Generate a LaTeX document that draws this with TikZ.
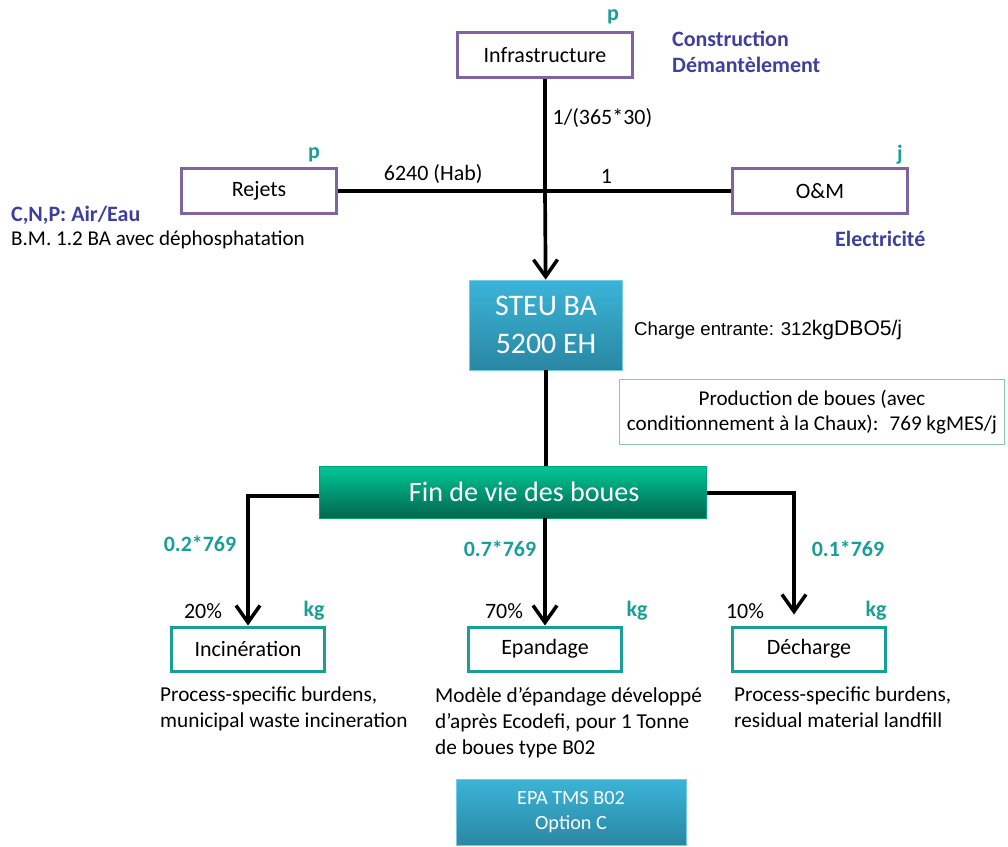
\documentclass[tikz,border=0pt]{standalone}
\usepackage{fontspec}
\setmainfont{Carlito}
\newfontfamily\arialfont{Liberation Sans}
\usetikzlibrary{arrows.meta}
\definecolor{mauve}{HTML}{8064A2}
\definecolor{sarcelle}{HTML}{1A9E98}
\definecolor{indigo}{HTML}{3F3F9E}
\definecolor{ciel}{HTML}{3BB4D8}
\definecolor{cielfonce}{HTML}{2A87A3}
\definecolor{menthe}{HTML}{00C896}
\definecolor{menthefonce}{HTML}{00664F}
\definecolor{vertpale}{HTML}{8CC9AC}
\begin{document}
\begin{tikzpicture}[x=0.02cm,y=-0.02cm,
  every node/.style={font=\fontsize{12.5}{15}\selectfont},
  inbox/.style={draw=mauve,line width=1.7pt,minimum width=3.5cm,minimum height=0.9cm},
  outbox/.style={draw=sarcelle,line width=1.7pt,minimum width=3.05cm,minimum height=0.88cm},
  bluebox/.style={top color=ciel,bottom color=cielfonce,draw=ciel!70!white,text=white,align=center},
  unit/.style={text=sarcelle,font=\fontsize{12.5}{15}\selectfont\bfseries},
  note/.style={text=indigo,font=\fontsize{12.5}{15}\selectfont\bfseries,align=left},
  desc/.style={align=left,anchor=north west,font=\fontsize{12.1}{14.8}\selectfont},
  flow/.style={line width=2.1pt},
  arrow/.style={flow,-{Straight Barb[length=3.4mm,width=4.8mm,line width=2pt]}}]
\useasboundingbox (0,0) rectangle (1008,846);

\node[inbox] (infra) at (545,55) {Infrastructure};
\node[inbox,minimum width=3.1cm] (rejets) at (259,191) {Rejets};
\node[inbox] (om) at (820,191) {O\&M};
\coordinate (noeud) at (545,191);

\node[unit] at (613,17) {p};
\node[unit] at (314,155) {p};
\node[unit] at (900,155) {j};
\node[note,anchor=west] at (666,52) {Construction\\Démantèlement};
\node[note,anchor=west] at (5,215) {C,N,P: Air/Eau};
\node[anchor=west,font=\fontsize{12}{14}\selectfont] at (5,240) {B.M. 1.2 BA avec déphosphatation};
\node[note,anchor=west] at (829,239) {Electricité};

\node[bluebox,minimum width=3.06cm,minimum height=1.8cm,
  font=\fontsize{17}{22}\selectfont] (steu) at (546,325) {STEU BA\\5200 EH};
\node[anchor=west] at (628,330) {\arialfont\fontsize{10.6}{13}\selectfont Charge entrante: 312\fontsize{12}{13}\selectfont kgDBO5/j};
\node[draw=vertpale,line width=0.6pt,minimum width=7.7cm,minimum height=1.3cm,align=center,
  font=\fontsize{12}{14.5}\selectfont]
  (prod) at (812,412) {Production de boues (avec\\conditionnement à la Chaux):~ 769 kgMES/j};

\node[top color=menthe,bottom color=menthefonce,draw=menthe!80!black,text=white,
  minimum width=7.74cm,minimum height=1.04cm,font=\fontsize{16}{20}\selectfont]
  (fin) at (513,492) {\hspace*{0.45cm}Fin de vie des boues};

\node[outbox] (incin) at (248,649) {Incinération};
\node[outbox] (epand) at (545,649) {Epandage};
\node[outbox] (decha) at (809,649) {Décharge};

\node[unit] at (200,544) {0.2*769};
\node[unit] at (500,549) {0.7*769};
\node[unit] at (848,549) {0.1*769};
\node at (203,611) {20\%};
\node at (504,611) {70\%};
\node at (745,611) {10\%};
\node[unit] at (314,611) {kg};
\node[unit] at (637,611) {kg};
\node[unit] at (876,611) {kg};

\node[desc] at (154,681) {Process-specific burdens,\\municipal waste incineration};
\node[desc] at (429,681) {Modèle d’épandage développé\\d’après Ecodefi, pour 1 Tonne\\de boues type B02};
\node[desc] at (728,681) {Process-specific burdens,\\residual material landfill};

\node[bluebox,minimum width=4.6cm,minimum height=1.32cm,
  font=\fontsize{11.5}{14}\selectfont] (epa) at (571,812) {EPA TMS B02\\Option C};

\draw[flow] (infra) -- node[right,pos=0.35] {1/(365*30)} (noeud);
\draw[flow] (rejets) -- node[above,pos=0.46] {6240 (Hab)} (noeud);
\draw[flow] (om) -- node[above,pos=0.67] {1} (noeud);
\draw[arrow] (noeud) -- (steu);
\draw[flow] (steu) -- (steu |- fin.north);
\draw[arrow] (fin.west |- 0,496) -| (incin);
\draw[arrow] (epand |- fin.south) -- (epand);
\draw[arrow] (fin.east |- 0,493) -| ([yshift=0.22cm]decha.north -| 794,0);
\end{tikzpicture}
\end{document}
